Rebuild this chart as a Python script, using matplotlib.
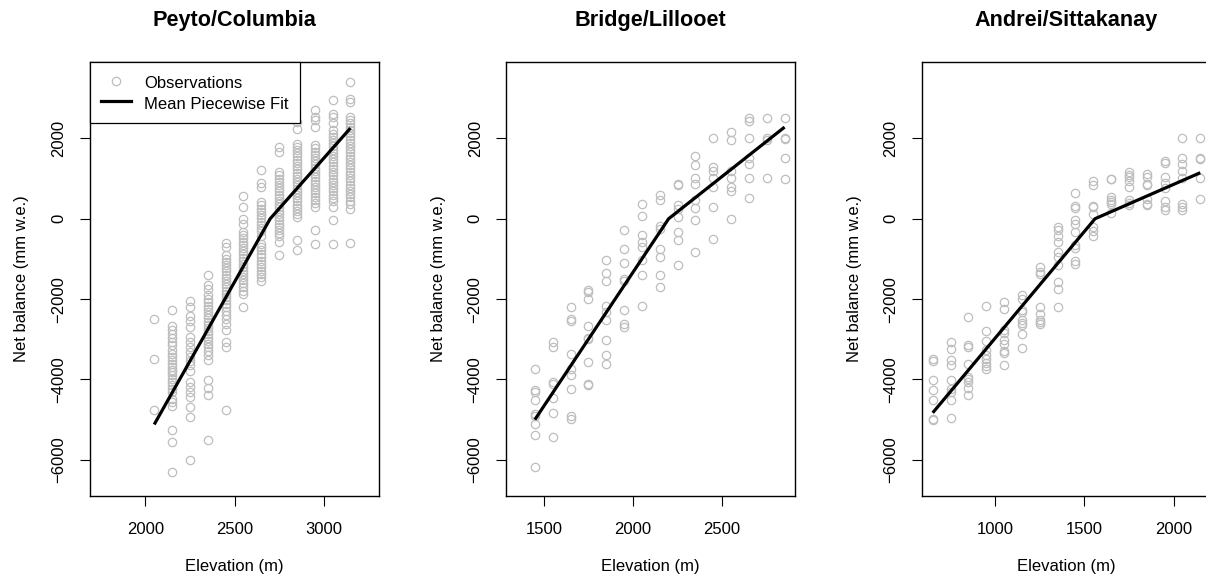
import matplotlib
matplotlib.use("Agg")
import matplotlib.pyplot as plt
from matplotlib.lines import Line2D

plt.rcParams['font.family'] = ['Liberation Sans', 'DejaVu Sans']

# ---------------- data ----------------
titles = ["Peyto/Columbia", "Bridge/Lillooet", "Andrei/Sittakanay"]

peyto_elev = [2050, 2150, 2250, 2350, 2450, 2550, 2650, 2750, 2850, 2950, 3050, 3150]
peyto_balance = [
    [-2500, -3500, -4750],
    [-2270, -2680, -2780, -2860, -2960, -3070, -3150, -3260, -3360, -3450, -3510, -3610,
     -3690, -3760, -3820, -3900, -3980, -4070, -4150, -4230, -4300, -4480, -4570, -4670,
     -5250, -5550, -6300],
    [-2050, -2200, -2410, -2550, -2700, -2950, -3070, -3200, -3320, -3450, -3530, -3650,
     -3780, -4070, -4190, -4320, -4440, -4690, -4940, -6010],
    [-1390, -1660, -1745, -1910, -2000, -2080, -2160, -2240, -2320, -2400, -2480, -2560,
     -2640, -2720, -2800, -2880, -2960, -3040, -3120, -3200, -3300, -3400, -3520,
     -4010, -4210, -4380, -5500],
    [-600, -700, -910, -990, -1070, -1150, -1230, -1310, -1390, -1470, -1550, -1630,
     -1710, -1790, -1870, -1950, -2030, -2110, -2200, -2300, -2400, -2500, -2620, -2780,
     -3070, -3200, -4760],
    [560, 290, 0, -120, -330, -410, -490, -570, -650, -730, -810, -890, -970, -1050,
     -1130, -1210, -1290, -1370, -1450, -1530, -1610, -1700, -1790, -1870, -2200],
    [1220, 900, 790, 410, 330, 250, 170, 90, 10, -70, -150, -230, -310, -420, -620,
     -700, -790, -870, -960, -1040, -1120, -1200, -1290, -1370, -1460, -1540],
    [1780, 1660, 1160, 1080, 1000, 920, 840, 760, 680, 600, 520, 440, 360, 280, 200,
     120, 40, -40, -120, -200, -280, -360, -440, -580, -910],
    [2410, 2240, 1870, 1790, 1710, 1630, 1550, 1470, 1390, 1310, 1230, 1150, 1070, 990,
     910, 830, 750, 670, 590, 510, 430, 350, 270, 190, 110, 40, -540, -790],
    [2700, 2530, 2450, 2280, 1830, 1750, 1670, 1590, 1510, 1430, 1350, 1270, 1190, 1110,
     1030, 950, 870, 790, 710, 630, 550, 470, 390, 290, -290, -620],
    [2950, 2610, 2530, 2370, 2200, 2120, 2040, 1960, 1880, 1800, 1720, 1640, 1560, 1480,
     1400, 1320, 1240, 1160, 1080, 1000, 920, 840, 760, 680, 600, 520, 440, 290, -40, -620],
    [3400, 2990, 2900, 2530, 2450, 2370, 2290, 2210, 2130, 2050, 1970, 1890, 1810, 1730,
     1650, 1570, 1490, 1410, 1330, 1250, 1170, 1090, 1010, 930, 850, 770, 690, 610, 530,
     450, 370, 250, -610],
]

bridge_elev = [1450, 1550, 1650, 1750, 1850, 1950, 2050, 2150, 2250, 2350, 2450, 2550, 2650, 2750, 2850]
bridge_balance = [
    [-3750, -4250, -4320, -4510, -4850, -4920, -5120, -5380, -6190],
    [-3070, -3200, -4070, -4120, -4460, -4840, -5440],
    [-2200, -2490, -2540, -3360, -3740, -3900, -4230, -4900, -4980],
    [-1770, -1820, -1990, -2660, -2960, -3000, -3570, -4110, -4150],
    [-1020, -1350, -1540, -2180, -2330, -2510, -3030, -3400, -3610],
    [-270, -750, -1100, -1490, -1540, -2270, -2630, -2700],
    [370, 80, -400, -570, -710, -1020, -1410, -2180],
    [600, 470, -170, -250, -750, -950, -1410, -1700],
    [870, 830, 330, 250, 40, -330, -540, -1160],
    [1550, 1340, 1010, 870, 460, 270, -20, -830],
    [2000, 1290, 1200, 1010, 790, 290, -500],
    [2160, 1950, 1200, 1010, 800, 700, 0],
    [2500, 2430, 2000, 1520, 1370, 1010, 510],
    [2500, 2000, 1950, 1010],
    [2500, 2000, 1990, 1500, 1000],
]

andrei_elev = [650, 750, 850, 950, 1050, 1150, 1250, 1350, 1450, 1550, 1650, 1750, 1850, 1950, 2050, 2150]
andrei_balance = [
    [-3500, -3530, -4010, -4260, -4510, -4980, -5020],
    [-3070, -3250, -3510, -3650, -4010, -4230, -4300, -4510, -4960],
    [-2450, -3150, -3180, -3610, -3940, -4000, -4060, -4210, -4380],
    [-2160, -2800, -3050, -3260, -3380, -3500, -3600, -3660, -3740],
    [-2080, -2240, -2780, -2850, -3030, -3110, -3280, -3350, -3650],
    [-1910, -1990, -2280, -2330, -2510, -2600, -2650, -2860, -3210],
    [-1200, -1330, -1380, -2200, -2370, -2510, -2580, -2620],
    [-210, -290, -420, -580, -830, -960, -1160, -1580, -1740, -2200],
    [640, 310, 270, -40, -140, -330, -660, -720, -1060, -1120],
    [940, 850, 310, 280, 120, -210, -300, -420],
    [1000, 980, 540, 470, 420, 360, 130],
    [1160, 1100, 1030, 950, 790, 460, 380, 340],
    [1120, 1040, 870, 830, 500, 370, 330],
    [1430, 1380, 1040, 900, 770, 440, 210, 280],
    [2010, 1520, 1370, 1200, 1010, 360, 290, 210],
    [2010, 1520, 1490, 1010, 500],
]

peyto_fit_x = [2050, 2700, 3150]
peyto_fit_y = [-5120, 0, 2255]
bridge_fit_x = [1450, 2200, 2850]
bridge_fit_y = [-5000, 0, 2280]
andrei_fit_x = [650, 1560, 2150]
andrei_fit_y = [-4830, 0, 1145]

xticks = [[2000, 2500, 3000], [1500, 2000, 2500], [1000, 1500, 2000]]
xlims = [(1690, 3310), (1290, 2910), (590, 2210)]
yticks = [-6000, -4000, -2000, 0, 2000]
ylim = (-6900, 3900)

# ---------------- plot ----------------
W, H = 1206, 588
fig = plt.figure(figsize=(W / 100, H / 100), dpi=100)

lefts = [90, 506.3, 922]
ax_w = 289
ax_top, ax_bot = 62, 496
ax_h = ax_bot - ax_top

panels = [
    (peyto_elev, peyto_balance, peyto_fit_x, peyto_fit_y),
    (bridge_elev, bridge_balance, bridge_fit_x, bridge_fit_y),
    (andrei_elev, andrei_balance, andrei_fit_x, andrei_fit_y),
]

FS = 12
pt_color = "#BEBEBE"

for i, (elev, bal, fx, fy) in enumerate(panels):
    ax = fig.add_axes([lefts[i] / W, 1 - ax_bot / H, ax_w / W, ax_h / H])
    xs, ys = [], []
    for e, vals in zip(elev, bal):
        xs.extend([e] * len(vals))
        ys.extend(vals)
    ax.plot(xs, ys, linestyle="none", marker="o", markersize=6,
            markerfacecolor="none", markeredgecolor=pt_color, markeredgewidth=0.9,
            label="Observations", clip_on=False)
    ax.plot(fx, fy, color="black", lw=2.3, solid_capstyle="butt",
            label="Mean Piecewise Fit")
    ax.set_xlim(*xlims[i])
    ax.set_ylim(*ylim)
    ax.set_xticks(xticks[i])
    ax.set_yticks(yticks)
    ax.tick_params(axis="both", direction="out", length=7.5, width=0.8,
                   labelsize=FS, color="black")
    ax.tick_params(axis="x", pad=11.5)
    ax.tick_params(axis="y", pad=9.5)
    for lab in ax.get_yticklabels():
        lab.set_rotation(90)
        lab.set_va("center")
    for sp in ax.spines.values():
        sp.set_linewidth(1.0)
        sp.set_color("black")
    ax.set_xlabel("Elevation (m)", fontsize=FS, va="center")
    ax.xaxis.set_label_coords(0.5, -(567 - ax_bot) / ax_h)
    ax.set_ylabel("Net balance (mm w.e.)", fontsize=FS, va="center")
    ax.yaxis.set_label_coords(-68 / ax_w, 0.5)
    ax.set_title(titles[i], fontsize=15.6, fontweight="bold",
                 y=1 + (ax_top - 20) / ax_h, va="center", pad=0)
    if i == 0:
        handles = [
            Line2D([], [], linestyle="none", marker="o", markersize=6,
                   markerfacecolor="none", markeredgecolor=pt_color, markeredgewidth=0.9),
            Line2D([], [], color="black", lw=2.3),
        ]
        leg = ax.legend(handles, ["Observations", "Mean Piecewise Fit"],
                        loc="upper left", bbox_to_anchor=(0, 1), borderaxespad=0,
                        fontsize=FS, frameon=True, fancybox=False, edgecolor="black",
                        framealpha=1, handlelength=1.75, handletextpad=0.8,
                        handleheight=1.26, borderpad=0.69, labelspacing=0.18)
        leg.get_frame().set_linewidth(0.9)

fig.savefig("out.png", dpi=100)
